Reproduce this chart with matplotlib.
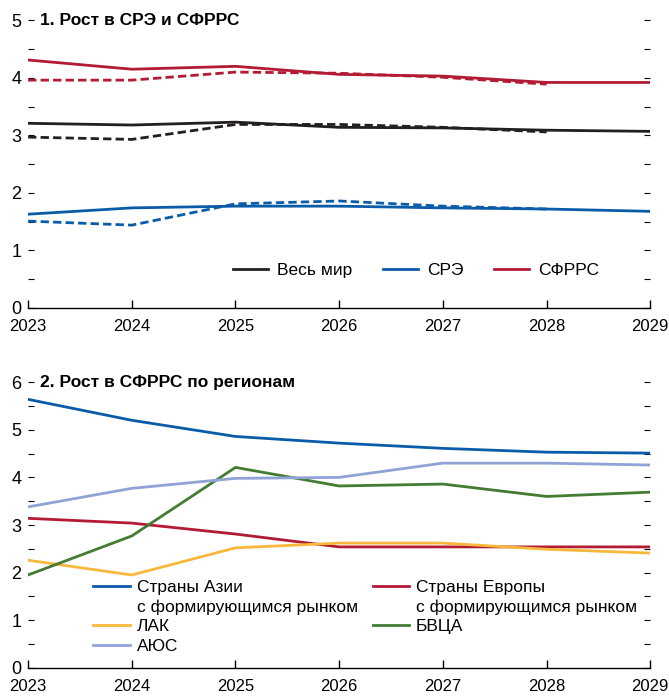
import numpy as np
import matplotlib
matplotlib.use("Agg")
import matplotlib.pyplot as plt
from matplotlib.lines import Line2D

plt.rcParams['font.family'] = ['Liberation Sans', 'DejaVu Sans']

years = [2023, 2024, 2025, 2026, 2027, 2028, 2029]
years_prev = years[:-1]

# Панель 1: сплошные — текущий прогноз, пунктир — предыдущий
world = [3.21, 3.18, 3.23, 3.14, 3.13, 3.09, 3.07]
world_prev = [2.97, 2.93, 3.19, 3.19, 3.14, 3.06]
ae = [1.63, 1.74, 1.77, 1.77, 1.74, 1.72, 1.68]
ae_prev = [1.51, 1.44, 1.81, 1.86, 1.77, 1.72]
emde = [4.31, 4.15, 4.20, 4.06, 4.03, 3.92, 3.92]
emde_prev = [3.96, 3.96, 4.10, 4.08, 4.01, 3.89]

# Панель 2: регионы
eap = [5.64, 5.20, 4.86, 4.72, 4.61, 4.53, 4.51]
eca = [3.14, 3.04, 2.81, 2.54, 2.54, 2.54, 2.54]
lac = [2.26, 1.95, 2.52, 2.62, 2.62, 2.49, 2.41]
mena = [1.95, 2.77, 4.21, 3.82, 3.86, 3.60, 3.69]
sar = [3.38, 3.77, 3.98, 4.00, 4.30, 4.30, 4.26]

c_black = '#231f20'
c_blue = '#0a5ca8'
c_red = '#b31b34'
c_yellow = '#f7b83b'
c_green = '#437c32'
c_lblue = '#8fa3d6'
lw = 2.0
fs = 12.5

fig = plt.figure(figsize=(6.69, 7.0), dpi=100)
ax1 = fig.add_axes([0.042, 0.56, 0.93, 0.411])
ax2 = fig.add_axes([0.042, 0.046, 0.93, 0.408])


def style(ax, ymax):
    ax.set_xlim(2023, 2029)
    ax.set_ylim(0, ymax)
    for s in ['top', 'left', 'right']:
        ax.spines[s].set_visible(False)
    ax.spines['bottom'].set_linewidth(1.0)
    ax.set_xticks(years)
    ax.set_xticklabels([str(y) for y in years], fontsize=12)
    ax.tick_params(axis='x', direction='in', length=6, width=1, pad=8)
    ax.set_yticks(np.arange(0, ymax + 1))
    ax.set_yticks(np.arange(0.5, ymax, 1.0), minor=True)
    ax.tick_params(axis='y', which='both', direction='in', length=4, width=0.8,
                   left=True, right=True, labelsize=13, pad=5)
    ax.tick_params(axis='x', which='minor', bottom=False)


style(ax1, 5)
ax1.plot(years, world, color=c_black, lw=lw, label='Весь мир')
ax1.plot(years, ae, color=c_blue, lw=lw, label='СРЭ')
ax1.plot(years, emde, color=c_red, lw=lw, label='СФРРС')
ax1.plot(years_prev, world_prev, color=c_black, lw=lw, ls=(0, (3, 1.5)))
ax1.plot(years_prev, ae_prev, color=c_blue, lw=lw, ls=(0, (3, 1.5)))
ax1.plot(years_prev, emde_prev, color=c_red, lw=lw, ls=(0, (3, 1.5)))
ax1.text(0.019, 5, '1. Рост в СРЭ и СФРРС', fontsize=fs, fontweight='bold',
         va='center', ha='left', transform=ax1.get_yaxis_transform())
ax1.legend(loc='center left', bbox_to_anchor=(0.33, 0.132), ncol=3, frameon=False,
           fontsize=fs, handlelength=2.0, columnspacing=1.8, handletextpad=0.5,
           borderpad=0, borderaxespad=0)

style(ax2, 6)
h_eap, = ax2.plot(years, eap, color=c_blue, lw=lw, label='Страны Азии')
h_eca, = ax2.plot(years, eca, color=c_red, lw=lw, label='Страны Европы')
h_lac, = ax2.plot(years, lac, color=c_yellow, lw=lw, label='ЛАК')
h_mena, = ax2.plot(years, mena, color=c_green, lw=lw, label='БВЦА')
h_sar, = ax2.plot(years, sar, color=c_lblue, lw=lw, label='АЮС')
ax2.text(0.019, 6, '2. Рост в СФРРС по регионам', fontsize=fs, fontweight='bold',
         va='center', ha='left', transform=ax2.get_yaxis_transform())
blank = Line2D([], [], color='none')
hs = [h_eap, blank, h_lac, h_sar, h_eca, blank, h_mena]
labels = ['Страны Азии', 'с формирующимся рынком', 'ЛАК', 'АЮС',
          'Страны Европы', 'с формирующимся рынком', 'БВЦА']
ax2.legend(hs, labels, loc='upper left', bbox_to_anchor=(0.105, 0.3075),
           ncol=2, frameon=False, fontsize=fs, handlelength=2.1, columnspacing=0.85,
           handletextpad=0.4, labelspacing=0.25, borderpad=0, borderaxespad=0)

fig.savefig('out.png', dpi=100)
